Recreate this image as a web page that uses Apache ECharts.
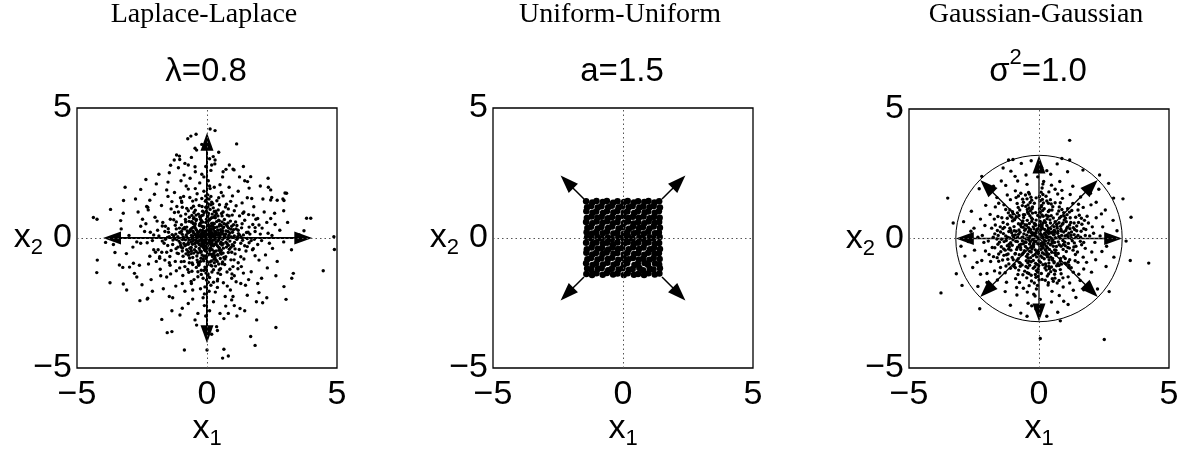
<!DOCTYPE html>
<html>
<head>
<meta charset="utf-8">
<script src="https://cdn.jsdelivr.net/npm/echarts@6/dist/echarts.min.js"></script>
<style>
  html, body { margin: 0; padding: 0; background: #fff; }
  #chart { width: 1183px; height: 451px; }
</style>
</head>
<body>
<div id="chart"></div>
<script>
// axis ticks shared by all three panels
const axisTicks = [-5, 0, 5];

// panel titles
const panelNames = ['Laplace-Laplace', 'Uniform-Uniform', 'Gaussian-Gaussian'];
const paramLabels = ['λ=0.8', 'a=1.5', '{m|σ}{sup|2}{m|=1.0}'];

// Laplace-Laplace samples (x1, x2)
const laplacePoints = [
  [0,0],[0.1,0],[-0.1,0.02],[0,0.1],[0.02,-0.1],[0.1,0.1],[-0.1,0.1],[0.1,-0.1],[-0.1,-0.1],[0.2,0],[-0.2,0.03],[0.03,0.2],[0,-0.2],
  [0.2,0.1],[-0.2,0.1],[0.2,-0.1],[-0.2,-0.1],[0.1,0.2],[-0.1,0.2],[0.1,-0.2],[-0.1,-0.2],[0.3,0.02],[-0.3,0],[0,0.3],[0.02,-0.3],
  [0.3,0.1],[-0.3,-0.1],[0.1,0.3],[-0.1,-0.3],[0.2,0.2],[-0.2,-0.2],[0.2,-0.2],[-0.2,0.2],[0.4,0],[-0.4,0.05],[0.05,0.4],[0,-0.4],
  [0.35,-0.15],[-0.35,0.15],[0.15,0.35],[-0.15,-0.35],[0.3,0.25],[-0.3,-0.25],[0.25,-0.3],[-0.25,0.3],[0.5,0.05],[-0.5,-0.05],
  [0.05,0.5],[-0.05,-0.5],[0.45,0.2],[-0.45,-0.2],[0.2,-0.45],[-0.2,0.45],[0.4,-0.3],[-0.4,0.3],[0.3,0.4],[-0.3,-0.4],[0.6,-0.05],
  [-0.6,0.1],[0.1,-0.6],[-0.05,0.6],
  [0.05,0.06],[-0.06,0.05],[0.06,-0.06],[-0.05,-0.07],[0.15,0.02],[-0.14,-0.03],[0.02,0.15],[-0.03,-0.16],[0.25,0.14],[-0.24,0.15],
  [0.15,-0.25],[-0.16,-0.24],[0.08,0.24],[-0.07,0.26],[0.27,-0.06],[-0.27,0.07],
  [0.11,0.36],[-0.13,0.39],[0.37,0.12],[-0.38,-0.13],[0.14,-0.37],[-0.36,0.11],[0.46,-0.07],[-0.47,0.16],[0.07,0.46],[-0.08,-0.47],
  [0.55,0.22],[-0.56,-0.24],[0.23,0.57],[-0.25,-0.55],[0.58,-0.27],[-0.54,0.26],[0.27,-0.58],[-0.26,0.56],[0.69,0.07],[-0.7,-0.08],
  [0.06,0.7],[-0.07,-0.69],[0.64,0.42],[-0.66,-0.39],[0.41,-0.64],[-0.42,0.67],[0.77,-0.21],[-0.76,0.27],[0.26,0.8],[-0.23,-0.78],
  [0.88,0.19],[-0.89,-0.21],[0.17,-0.88],[-0.21,0.86],[0.93,0.04],[-0.94,-0.06],[0.03,0.93],[0.01,-0.91],[0.74,0.52],[-0.72,-0.53],
  [0.51,-0.79],[-0.5,0.78],[1.06,-0.17],[-1.05,0.21],[0.19,-1.08],[-0.17,1.03],[1.02,0.32],[-1.01,-0.29],[0.33,1.03],[-0.31,-1.02],
  [0.12,0.08],[-0.09,0.13],[0.13,-0.09],[-0.12,-0.08],[0.18,0.14],[-0.19,-0.14],[0.16,-0.15],[-0.15,0.17],[0.32,-0.04],[-0.33,0.05],
  [0.04,0.33],[-0.05,-0.32],[0.42,0.12],[-0.41,-0.11],[0.12,-0.41],[-0.13,0.42],[0.24,0.33],[-0.23,-0.31],[0.31,-0.24],[-0.32,0.23],
  [0.52,-0.22],[-0.53,0.21],[0.22,0.51],[-0.22,-0.52],[0.62,0.17],[-0.61,-0.16],[0.16,-0.63],[-0.17,0.61],[0.47,0.46],[-0.48,-0.45],
  [0.46,-0.47],[-0.47,0.46],[0.81,0.25],[-0.8,-0.26],[0.27,-0.82],[-0.25,0.81],[1.18,0.05],[-1.17,-0.06],[0.04,1.19],[-0.06,-1.18],
  [0.58,0.62],[-0.61,-0.6],[0.62,-0.58],[-0.6,0.61],[0.92,-0.36],[-0.93,0.35],[0.36,0.94],[-0.35,-0.93],
  [0.72,0.15],[-0.68,0.22],[0.55,-0.48],[-0.62,-0.41],[0.18,0.78],[-0.25,0.72],[0.31,-0.77],[-0.14,-0.81],[0.88,-0.12],[-0.91,0.04],
  [0.05,0.95],[0.02,-0.97],[0.66,0.55],[-0.58,0.63],[0.47,0.66],[-0.71,-0.66],[0.83,0.38],[-0.85,-0.3],[0.39,-0.9],[-0.42,0.88],
  [1.05,0.08],[-1.08,-0.12],[0.12,1.1],[-0.08,-1.12],[0.95,-0.55],[-0.98,0.51],[0.62,1.0],[-0.55,-1.02],[1.2,0.3],[-1.18,0.35],
  [0.25,-1.22],[-0.3,1.25],[1.3,-0.2],[-1.32,-0.25],[0.18,1.38],[-0.22,-1.4],[0.78,0.88],[-0.82,0.92],[0.92,-0.84],[-0.88,-0.9],
  [1.1,0.62],[-1.15,-0.58],[0.52,-1.18],[-0.6,1.15],[0.35,0.22],[-0.42,-0.08],[0.12,-0.42],[0.52,0.32],[-0.52,0.42],[0.28,0.55],
  [-0.35,-0.58],[0.62,-0.22],[-0.72,-0.18],[0.08,0.68],[-0.12,-0.7],[0.75,-0.35],[-0.78,0.42],[0.42,0.85],[-0.38,-0.85],[0.98,0.22],
  [-1.0,-0.35],[0.28,1.02],[-0.32,-1.05],[1.02,-0.3],[-0.98,0.25],[1.4,0.12],[-1.45,0.05],[0.08,1.5],[0.1,-1.52],[1.25,0.85],
  [-1.22,-0.9],[0.88,-1.2],[-0.95,1.18],[1.5,-0.5],[-1.55,-0.55],[0.45,1.55],[-0.5,-1.6],[1.62,0.42],[-1.6,0.45],[0.4,-1.65],
  [-0.38,1.7],[0.65,0.12],[-0.62,-0.05],[0.02,0.82],[-0.15,0.88],[0.22,-0.62],[0.58,0.85],[-0.68,0.8],[0.72,-0.72],[-0.55,-0.75],
  [1.15,-0.05],[-1.2,0.15],[0.15,-1.05],[-0.05,1.18],[0.35,-0.5],[-0.28,0.52],[0.48,0.1],[-0.48,-0.22],[0.9,0.65],[-0.92,-0.7],
  [0.68,-1.02],[-0.72,1.05],[1.35,0.55],[-1.38,-0.48],[0.52,-1.4],[-0.55,1.42],[1.7,-0.1],[-1.72,-0.12],[-0.12,1.8],[0.15,-1.82],
  [1.05,1.05],[-1.1,1.0],[1.0,-1.1],[-1.05,-1.15],[0.38,0.42],[-0.45,0.55],[0.55,-0.62],[-0.6,-0.5],[0.82,0.02],[-0.8,0.12],
  [0.2,0.92],[0.28,-0.95],[1.3,-0.72],[-1.28,0.7],[0.75,1.3],[-0.7,-1.32],[1.85,0.25],[-1.9,0.3],[0.28,1.95],[-0.25,-1.95],
  [1.6,0.9],[-1.62,-0.85],[0.95,-1.55],[-0.9,1.6],[0.6,0.28],[-0.65,0.28],[0.3,-0.68],[-0.22,0.62],[0.95,0.45],[-0.95,-0.5],
  [0.45,-1.0],[-0.5,0.98],[1.12,0.35],[-1.1,-0.6],[1.45,-0.3],[-1.48,0.22],[0.22,1.32],[-0.35,-1.3],[0.82,1.12],[-0.85,-1.1],
  [1.2,-0.95],[-1.25,0.98],
  [0.07,0.15],[0.14,0.27],[0.23,0.06],[0.33,0.17],[0.41,0.31],[0.09,0.47],[0.26,0.41],[0.52,0.13],[0.61,0.38],[0.37,0.63],
  [0.18,0.56],[0.73,0.27],[0.49,0.52],[0.84,0.11],[0.13,0.74],[0.31,0.86],[0.67,0.71],[0.92,0.34],[0.56,0.94],[1.02,0.51],
  [0.24,1.16],[1.21,0.17],[0.81,0.58],[0.43,1.08],[1.33,0.39],[0.71,1.19],[0.97,0.88],[1.12,1.24],[0.38,1.43],[1.52,0.21],
  [0.05,1.31],[1.45,0.68],[0.62,1.62],[1.76,0.52],[0.91,1.41],
  [-0.08,0.12],[-0.17,0.29],[-0.26,0.09],[-0.36,0.21],[-0.12,0.43],[-0.44,0.37],[-0.29,0.48],[-0.55,0.08],[-0.63,0.33],[-0.21,0.67],
  [-0.41,0.71],[-0.74,0.19],[-0.53,0.56],[-0.86,0.41],[-0.11,0.97],[-0.33,0.92],[-0.69,0.64],[-0.95,0.14],[-0.58,0.87],[-1.06,0.38],
  [-0.19,1.21],[-1.22,0.49],[-0.83,0.71],[-0.45,1.07],[-1.34,0.13],[-0.78,1.14],[-1.01,0.85],[-1.16,1.21],[-0.42,1.47],[-1.49,0.36],
  [-0.06,1.41],[-1.41,0.72],[-0.66,1.56],[-1.72,0.46],[-0.97,1.37],
  [-0.06,-0.14],[-0.16,-0.26],[-0.24,-0.07],[-0.34,-0.18],[-0.09,-0.45],[-0.43,-0.33],[-0.27,-0.49],[-0.53,-0.11],[-0.61,-0.36],
  [-0.19,-0.65],[-0.39,-0.69],[-0.72,-0.24],[-0.51,-0.58],[-0.83,-0.07],[-0.13,-0.88],[-0.31,-0.97],[-0.67,-0.77],[-0.94,-0.38],
  [-0.57,-0.96],[-1.03,-0.19],[-0.22,-1.24],[-1.19,-0.41],[-0.81,-0.61],[-0.41,-1.13],[-1.31,-0.08],[-0.74,-1.21],[-0.99,-0.91],
  [-1.18,-1.26],[-0.35,-1.49],[-1.51,-0.29],[-0.04,-1.35],[-1.43,-0.71],[-0.61,-1.67],[-1.74,-0.55],[-0.93,-1.44],
  [0.09,-0.13],[0.17,-0.28],[0.26,-0.08],[0.35,-0.22],[0.11,-0.48],[0.44,-0.35],[0.28,-0.52],[0.54,-0.16],[0.63,-0.39],[0.21,-0.71],
  [0.42,-0.66],[0.73,-0.16],[0.52,-0.57],[0.86,-0.43],[0.12,-0.92],[0.33,-1.08],[0.69,-0.81],[0.97,-0.26],[0.58,-0.99],[1.08,-0.61],
  [0.19,-1.31],[1.24,-0.44],[0.82,-0.56],[0.47,-1.23],[1.37,-0.09],[0.77,-1.31],[1.04,-0.84],[1.19,-1.18],[0.41,-1.58],[1.55,-0.33],
  [0.03,-1.44],[1.42,-0.81],[0.63,-1.72],[1.78,-0.41],[0.96,-1.38],
  [0.03,0.58],[-0.02,0.72],[0.04,0.88],[-0.03,1.04],[0.02,1.25],[-0.04,1.45],[0.03,1.66],[0.05,-0.65],[-0.03,-0.79],[0.02,-1.02],
  [-0.05,-1.21],[0.04,-1.38],[-0.02,-1.62],[0.66,0.03],[0.79,-0.04],[0.94,0.02],[1.12,-0.03],[1.31,0.04],[1.55,-0.02],[-0.67,-0.03],
  [-0.78,0.04],[-0.97,-0.02],[-1.12,0.05],[-1.29,-0.04],[-1.52,0.02],
  [0.15,1.6],[-0.2,1.52],[0.25,-1.7],[-0.15,-1.55],[1.62,-0.18],[1.58,0.22],[-1.62,0.25],[-1.65,-0.2],[0.1,2.0],[-0.12,2.35],
  [0.08,-2.05],[-0.15,-2.3],[2.1,-0.1],[2.35,0.18],[-2.05,0.12],[-2.3,-0.18],[0.45,0.68],[-0.52,0.75],[0.65,-0.75],[-0.72,-0.55],
  [0.85,0.85],[-0.82,0.62],[0.6,-0.92],[-0.68,-0.95],[1.15,0.48],[-1.18,0.62],[1.08,-0.42],[-1.12,-0.35],[0.48,1.28],[-0.52,1.22],
  [0.42,-1.35],[-0.58,-1.28],[1.42,1.0],[-1.38,1.12],[1.32,-1.1],[-1.45,-0.95],[0.98,1.62],[-1.02,1.55],[1.12,-1.68],[-0.95,-1.75],
  [1.88,0.72],[-1.92,0.65],[1.85,-0.68],[-1.82,-0.72],[0.32,0.78],[-0.28,0.82],[0.35,-0.85],[-0.25,-0.9],[0.78,0.45],[-0.85,0.35],
  [0.82,-0.28],[-0.78,-0.45],[1.25,0.12],[-1.28,0.08],[0.15,1.28],[-0.12,-1.25],[0.55,0.48],[-0.58,0.38],[0.48,-0.38],[-0.42,-0.52],
  [0.18,0.45],[-0.45,0.12],[0.42,-0.12],[-0.12,-0.38],[2.45,0.75],[-2.55,0.45],[0.72,-2.62],[-0.45,2.55],[1.72,1.52],[-1.78,-1.45],
  [1.48,-1.82],[-1.55,1.85],
  [2.05,0.15],[-2.1,-0.1],[0.05,2.2],[-0.1,-2.15],[1.8,1.2],[-1.75,1.25],[1.7,-1.3],[-1.8,-1.2],[1.2,1.8],[-1.25,1.75],
  [1.3,-1.75],[-1.2,-1.85],[2.3,0.6],[-2.35,0.55],[2.25,-0.65],[-2.2,-0.7],[0.6,2.35],[-0.65,2.3],[0.7,-2.25],[-0.55,-2.35],
  [2.5,0.1],[-2.55,-0.2],[0.15,2.6],[-0.1,-2.6],[1.95,0.75],[-2.0,0.8],[2.0,-0.85],[-1.95,-0.9],[0.85,1.95],[-0.8,2.0],
  [0.9,-2.0],[-0.85,-2.05],[2.6,0.95],[-2.65,1.0],[2.7,-0.9],[-2.6,-1.05],[1.0,2.65],[-1.1,2.7],[1.05,-2.6],[-0.95,-2.7],
  [1.55,1.55],[-1.55,-1.5],[1.6,-1.6],[-1.5,1.6],[2.15,1.5],[-2.2,1.45],[2.1,-1.55],[-2.15,-1.6],[1.45,2.2],[-1.5,2.15],
  [1.55,-2.2],[-1.45,-2.25],[2.8,0.3],[-2.85,-0.35],[0.3,2.85],[-0.35,-2.9],[2.4,-0.2],[-2.4,0.25],[-0.2,2.45],[0.25,-2.45],
  [1.85,0.4],[-1.88,-0.45],[0.4,-1.9],[-0.45,1.9],[2.2,1.0],[-2.25,-1.0],[1.0,-2.25],[-1.0,2.2],[1.75,-0.45],[-1.7,0.6],
  [0.55,1.75],[-0.6,-1.75],[2.95,-0.15],[-3.0,0.1],[0.1,3.05],[-0.05,-3.0],[2.45,1.85],[-2.5,-1.8],[1.9,-2.45],[-1.85,2.45],
  [3.1,0.6],[-3.1,-0.6],[0.65,-3.1],[-0.6,3.1],[2.7,1.45],[-2.75,1.5],[2.65,-1.45],[-2.7,-1.5],[1.4,2.75],[-1.35,-2.8],
  [1.45,-2.8],[-1.4,2.8],[1.65,0.15],[-1.6,-0.05],[0.05,-1.7],[-0.05,1.62],[2.0,0.5],[-2.05,-0.45],[0.5,2.05],[-0.55,-2.0],
  [1.35,1.35],[-1.35,1.4],[1.4,-1.35],[-1.4,-1.38],[2.35,2.3],[-2.3,-2.35],[2.3,-2.3],[-2.35,2.25],
  [2.12,0.38],[-2.18,0.22],[0.32,-2.08],[-0.28,2.12],[1.95,-0.25],[-1.98,-0.55],[0.62,2.55],[-0.72,-2.52],[2.52,-0.4],[-2.48,0.72],
  [1.25,2.35],[-1.32,-2.3],[2.32,-1.15],[-2.28,1.18],[0.95,-2.38],[-0.88,2.42],[1.78,0.88],[-1.82,-0.78],[0.78,-1.85],[-0.72,1.88],
  [2.62,0.52],[-2.7,-0.15],[-0.05,2.75],[0.1,-2.8],[1.62,1.92],[-1.68,-1.95],[1.95,-1.75],[-2.02,1.68],[3.25,-0.45],[-3.3,0.35],
  [-0.4,-3.35],[0.45,3.3],[2.95,1.05],[-2.98,-1.12],[1.15,-3.0],[-1.05,3.02],[1.38,0.95],[-1.42,-1.05],[1.05,-1.45],[-0.98,1.42],
  [3.55,0.12],[-3.6,-0.25],[0.18,-3.7],[-0.2,3.6],[2.05,2.0],[-2.1,-2.05],[2.0,-2.1],[-1.95,2.08],[1.82,-0.05],[-1.85,0.08],
  [0.12,1.9],[-0.08,-1.88],
  [0.12,4.19],[0.31,4.13],[-0.42,3.99],[-0.62,3.92],[-0.74,3.82],[1.14,3.62],[-0.46,3.45],[-0.4,3.38],[-1.17,3.19],[-1.06,3.15],
  [-1.26,3.0],[0.24,3.13],[0.31,3.0],[0.18,2.81],[0.86,2.81],[0.73,2.64],[1.04,2.62],[-1.45,2.51],[-0.85,2.87],[-0.72,2.81],
  [-0.46,2.74],[1.68,2.36],[1.56,2.17],[2.36,1.95],[3.06,1.72],[-3.15,1.95],[-2.55,1.87],[-3.21,1.44],[-3.71,1.1],[-4.37,0.79],
  [-4.23,0.72],[-3.22,0.95],[-3.32,0.67],[-2.32,1.21],[-2.26,1.08],[2.49,1.56],[2.45,1.46],[2.96,1.44],[3.83,0.76],[3.99,0.76],
  [3.73,0.28],[4.88,0.05],[4.9,-0.44],[4.47,-1.26],[3.32,-1.36],[3.26,-1.55],[2.96,-1.87],[3.04,-2.36],[2.65,-3.44],[1.85,-4.13],
  [1.68,-3.79],[0.65,-4.28],[0.82,-4.54],[0.6,-4.62],[-0.87,-4.31],[0.0,-4.31],[-1.53,-3.64],[-1.35,-3.6],[-1.74,-3.13],[-1.04,-2.96],
  [-2.58,-2.41],[-2.28,-2.32],[-3.09,-2.0],[-3.22,-1.77],[-3.73,-1.72],[-4.24,-1.33],[-4.22,-0.85],[-3.54,-0.56],[-3.37,-1.04],
  [-3.24,-1.13],[-2.83,-0.97],[-2.79,-1.36],[-3.9,-0.17],[2.14,-2.49],[1.91,-3.15],[1.27,-2.71],[0.5,-2.9],[0.82,-2.9],[0.37,-3.41],
  [0.4,-3.56],[-0.46,-3.15],[3.0,1.73],[2.92,1.5]
];

// Uniform-Uniform samples
const uniformPoints = [
  [-1.41,-1.38],[-1.19,-1.42],[-1.02,-1.36],[-0.78,-1.41],[-0.62,-1.35],[-0.38,-1.4],[-0.21,-1.37],[0.03,-1.42],[0.18,-1.36],[0.42,-1.41],[0.58,-1.38],[0.81,-1.42],[0.98,-1.36],[1.22,-1.4],[1.4,-1.37],
  [-1.38,-1.17],[-1.22,-1.23],[-0.97,-1.19],[-0.82,-1.15],[-0.57,-1.24],[-0.43,-1.18],[-0.17,-1.21],[-0.02,-1.16],[0.23,-1.22],[0.37,-1.19],[0.63,-1.15],[0.77,-1.24],[1.03,-1.18],[1.17,-1.21],[1.42,-1.16],
  [-1.42,-0.97],[-1.17,-1.04],[-1.03,-0.98],[-0.77,-1.02],[-0.6,-0.95],[-0.36,-1.03],[-0.23,-0.97],[0.04,-1.01],[0.16,-0.96],[0.44,-1.04],[0.57,-0.99],[0.83,-0.96],[0.96,-1.03],[1.23,-0.98],[1.39,-1.02],
  [-1.37,-0.82],[-1.23,-0.77],[-0.98,-0.83],[-0.83,-0.78],[-0.58,-0.81],[-0.42,-0.76],[-0.18,-0.84],[0.02,-0.78],[0.21,-0.82],[0.38,-0.77],[0.61,-0.83],[0.78,-0.79],[1.02,-0.84],[1.18,-0.77],[1.41,-0.81],
  [-1.41,-0.57],[-1.18,-0.63],[-1.04,-0.58],[-0.79,-0.62],[-0.63,-0.56],[-0.37,-0.61],[-0.22,-0.58],[0.03,-0.63],[0.17,-0.57],[0.43,-0.62],[0.59,-0.58],[0.82,-0.64],[0.97,-0.57],[1.21,-0.61],[1.38,-0.59],
  [-1.39,-0.43],[-1.21,-0.37],[-0.97,-0.41],[-0.81,-0.38],[-0.57,-0.44],[-0.41,-0.37],[-0.19,-0.42],[-0.03,-0.38],[0.22,-0.43],[0.39,-0.36],[0.62,-0.42],[0.79,-0.37],[1.04,-0.43],[1.19,-0.38],[1.42,-0.42],
  [-1.42,-0.18],[-1.17,-0.23],[-1.02,-0.17],[-0.77,-0.22],[-0.61,-0.18],[-0.38,-0.24],[-0.21,-0.17],[0.04,-0.21],[0.18,-0.16],[0.41,-0.23],[0.58,-0.18],[0.83,-0.22],[0.98,-0.17],[1.22,-0.23],[1.39,-0.19],
  [-1.38,0.03],[-1.22,-0.02],[-0.98,0.04],[-0.82,-0.03],[-0.58,0.02],[-0.43,-0.04],[-0.18,0.03],[0.02,-0.02],[0.22,0.04],[0.37,-0.03],[0.63,0.02],[0.78,-0.04],[1.03,0.03],[1.17,-0.02],[1.41,0.04],
  [-1.4,0.22],[-1.19,0.17],[-1.03,0.23],[-0.78,0.18],[-0.62,0.24],[-0.37,0.17],[-0.22,0.21],[0.03,0.16],[0.17,0.23],[0.42,0.18],[0.57,0.22],[0.81,0.17],[0.97,0.24],[1.23,0.18],[1.38,0.21],
  [-1.37,0.38],[-1.23,0.43],[-0.97,0.37],[-0.83,0.42],[-0.57,0.38],[-0.42,0.44],[-0.17,0.37],[-0.02,0.41],[0.23,0.36],[0.38,0.43],[0.62,0.38],[0.77,0.42],[1.02,0.37],[1.18,0.44],[1.42,0.39],
  [-1.42,0.62],[-1.18,0.57],[-1.02,0.63],[-0.79,0.58],[-0.61,0.64],[-0.38,0.57],[-0.21,0.62],[0.04,0.58],[0.19,0.63],[0.41,0.56],[0.58,0.61],[0.82,0.57],[0.98,0.63],[1.21,0.58],[1.39,0.62],
  [-1.39,0.77],[-1.21,0.83],[-0.98,0.78],[-0.82,0.82],[-0.58,0.76],[-0.42,0.81],[-0.18,0.78],[0.02,0.84],[0.21,0.77],[0.38,0.82],[0.61,0.78],[0.79,0.83],[1.03,0.76],[1.19,0.81],[1.41,0.78],
  [-1.41,1.03],[-1.17,0.97],[-1.03,1.02],[-0.77,0.96],[-0.62,1.03],[-0.37,0.98],[-0.22,1.04],[0.03,0.97],[0.17,1.02],[0.43,0.96],[0.57,1.03],[0.83,0.98],[0.97,1.02],[1.22,0.97],[1.38,1.03],
  [-1.38,1.18],[-1.22,1.23],[-0.97,1.17],[-0.83,1.22],[-0.57,1.18],[-0.43,1.24],[-0.17,1.17],[-0.03,1.22],[0.22,1.18],[0.37,1.23],[0.63,1.17],[0.78,1.21],[1.02,1.18],[1.18,1.23],[1.42,1.17],
  [-1.42,1.41],[-1.18,1.37],[-1.02,1.42],[-0.78,1.38],[-0.62,1.42],[-0.38,1.36],[-0.21,1.41],[0.04,1.38],[0.18,1.42],[0.42,1.37],[0.58,1.41],[0.82,1.38],[0.98,1.42],[1.21,1.37],[1.39,1.41]
];

// Gaussian-Gaussian samples
const gaussPoints = [
  [0,0],[0.15,0.05],[-0.15,0.1],[0.05,0.18],[-0.05,-0.2],[0.25,-0.1],[-0.25,-0.05],[0.1,-0.3],[-0.1,0.3],[0.3,0.25],[-0.3,0.22],
  [0.28,-0.3],[-0.28,-0.3],[0.42,0.05],[-0.42,0.0],[0.02,0.42],[0.0,-0.45],[0.45,0.38],[-0.4,0.42],[0.4,-0.42],[-0.45,-0.38],
  [0.58,0.15],[-0.58,0.18],[0.15,0.6],[-0.18,0.58],[0.2,-0.6],[-0.15,-0.62],[0.6,-0.15],[-0.6,-0.2],[0.7,0.4],[-0.68,0.45],
  [0.65,-0.45],[-0.7,-0.42],[0.42,0.72],[-0.45,0.7],[0.45,-0.72],[-0.42,-0.75],[0.8,0.02],[-0.82,0.05],[0.03,0.82],[0.0,-0.85],
  [0.12,0.12],[-0.12,-0.12],[0.22,0.35],[-0.35,0.08],[0.35,-0.18],[0.08,-0.42],[-0.22,0.45],[0.52,0.25],[-0.5,-0.15],[0.55,-0.3],
  [-0.55,0.32],[0.3,0.5],[-0.3,-0.52],[0.3,-0.55],[-0.25,0.75],[0.72,0.2],[-0.75,-0.25],[0.2,-0.78],[0.85,-0.3],[-0.88,0.28],
  [0.28,0.9],[-0.3,-0.9],[0.9,0.55],[-0.92,-0.6],[0.58,-0.9],[-0.55,0.92],[0.62,0.65],[-0.65,-0.62],[0.65,-0.65],[-0.62,0.68],
  [0.09,0.15],[-0.18,0.2],[0.27,0.05],[-0.26,0.13],[0.04,-0.28],[0.16,-0.24],[-0.21,-0.19],[0.37,0.19],[-0.39,-0.06],[0.11,0.46],
  [-0.13,0.51],[0.5,-0.18],[-0.51,0.37],[0.27,-0.47],[-0.36,-0.49],[0.61,0.24],[-0.64,-0.09],[0.25,0.62],[-0.28,0.66],[0.29,-0.64],
  [-0.09,-0.71],[0.74,-0.13],[-0.73,0.24],[0.68,0.55],[-0.66,0.59],[0.63,-0.55],[-0.61,-0.56],[0.84,0.36],[-0.82,-0.34],[0.36,0.86],
  [-0.35,0.88],[0.39,-0.82],[-0.38,-0.87],[0.94,-0.23],[-0.97,0.04],[0.03,0.99],[-0.01,-1.04],[1.07,0.4],[-1.09,0.32],[0.4,1.09],
  [-0.44,1.02],[0.38,-1.08],[-0.43,-1.13],[1.11,-0.35],[-1.14,-0.33],[0.79,0.79],[-0.77,0.89],[0.83,-0.77],[-0.8,-0.78],[1.23,0.12],
  [-1.26,-0.08],[0.09,1.22],[-0.1,-1.24],[1.28,-0.09],[-1.21,0.05],[1.02,0.78],[-1.04,0.82],[1.01,-0.77],[-1.03,-0.73],[0.76,1.06],
  [-0.74,1.1],[0.77,-1.04],[-0.72,-1.07],[1.37,0.35],[-1.39,0.38],[1.34,-0.33],[-1.36,-0.4],[0.36,1.36],[-0.34,1.39],[0.37,-1.37],
  [-0.39,-1.35],[1.5,0.12],[-1.52,-0.14],[0.13,1.51],[-0.12,-1.5],[1.17,1.02],[-1.18,0.99],[1.15,-1.03],[-1.16,-0.98],[1.63,0.78],
  [-1.61,-0.74],[0.77,-1.62],[-0.79,1.64],[1.72,0.38],[-1.7,-0.36],[0.36,-1.71],[-0.37,1.72],[0.56,0.14],[-0.54,-0.13],[0.13,-0.55],
  [-0.14,0.55],[0.44,0.6],[-0.43,-0.61],[0.6,-0.44],[-0.61,0.43],[0.93,0.6],[-0.91,-0.58],[0.58,-0.94],[-0.6,0.92],
  [0.07,0.33],[-0.19,0.37],[0.38,-0.07],[-0.36,-0.21],[0.17,-0.16],[-0.08,0.06],[0.26,0.13],[-0.21,-0.33],[0.47,0.21],[-0.47,0.13],
  [0.12,0.52],[-0.09,-0.53],[0.51,-0.11],[-0.52,-0.31],[0.36,0.41],[-0.33,0.35],[0.24,-0.43],[-0.16,0.18],[0.63,0.03],[-0.66,0.03],
  [0.05,0.66],[0.07,-0.67],[0.57,0.46],[-0.54,0.52],[0.49,-0.53],[-0.56,-0.47],[0.73,0.28],[-0.77,0.33],[0.31,0.76],[-0.29,0.79],
  [0.33,-0.71],[-0.32,-0.74],[0.78,-0.24],[-0.71,-0.35],[0.87,0.12],[-0.91,0.14],[0.11,0.91],[-0.13,-0.96],[0.92,-0.08],[-0.89,-0.11],
  [0.06,-0.92],[-0.05,0.89],[0.77,0.61],[-0.79,0.57],[0.74,-0.58],[-0.76,-0.63],[0.55,0.79],[-0.59,0.81],[0.52,-0.83],[-0.49,-0.86],
  [0.03,0.24],[-0.11,0.21],[0.19,-0.05],[-0.18,-0.09],[0.08,-0.19],[0.33,0.07],[-0.33,-0.12],[0.14,0.39],[-0.06,0.37],[0.16,-0.36],
  [-0.14,-0.44],[0.44,-0.24],[-0.41,0.25],[0.39,0.27],[-0.27,-0.41],[0.59,0.32],[-0.62,0.06],[0.04,0.56],[-0.02,-0.59],[0.54,-0.04],
  [-0.48,0.52],[0.37,-0.61],[-0.37,0.58],[0.67,-0.31],[-0.69,-0.22],[0.21,0.69],[-0.11,0.71],[0.12,-0.73],[-0.23,-0.66],[0.76,0.08],
  [-0.79,0.16],[0.83,0.47],[-0.86,-0.42],[0.47,0.88],[-0.43,-0.94],[0.93,-0.42],[-0.96,0.46],[0.38,-0.95],[-0.41,0.97],[1.07,0.13],
  [-1.09,-0.16],[0.14,1.08],[-0.16,-1.09],[1.13,-0.19],[-1.16,0.27],[0.23,-1.14],[-0.27,1.15],[1.22,0.62],[-1.25,-0.63],[0.63,-1.25],
  [-0.64,1.27],[0.88,1.12],[-0.91,-1.13],[1.13,-0.91],[-1.11,0.88],[1.42,0.05],[-1.44,-0.03],[0.05,1.46],[-0.04,-1.47],[1.31,-0.45],
  [-1.33,0.43],[0.47,1.33],[-0.45,-1.32],[0.69,0.47],[-0.71,0.52],[0.52,-0.77],[-0.48,-0.69],[0.86,0.29],[-0.83,-0.12],[0.16,0.86],
  [-0.22,-0.85],[0.99,-0.14],[-1.01,0.12],[0.15,-1.01],[-0.13,1.0],[1.19,0.38],[-1.17,-0.41],[0.4,-1.17],[-0.38,1.18],[0.97,0.87],
  [-0.99,-0.82],[0.86,-0.99],[-0.83,0.99],[1.52,0.62],[-1.55,-0.6],[0.61,-1.53],[-0.63,1.52],[1.59,-0.11],[-1.57,0.12],[0.12,-1.58],
  [-0.11,1.57],[0.34,0.31],[-0.31,-0.34],[0.32,-0.36],[-0.36,0.32],[0.47,0.01],[-0.49,-0.02],[0.01,0.49],[-0.02,-0.48],[0.22,0.2],
  [-0.2,-0.23],[0.21,-0.21],[-0.22,0.2],
  [1.0,0.1],[-1.0,-0.05],[0.05,1.02],[-0.08,-1.0],[1.1,0.45],[-1.12,0.4],[1.05,-0.5],[-1.08,-0.45],[0.5,1.1],[-0.45,1.12],
  [0.48,-1.1],[-0.5,-1.08],[0.85,0.85],[-0.88,0.82],[0.82,-0.88],[-0.85,-0.85],[1.25,0.0],[-1.28,0.1],[0.1,1.28],[-0.05,-1.3],
  [1.2,0.8],[-1.22,0.78],[1.18,-0.82],[-1.2,-0.8],[0.78,1.22],[-0.8,1.2],[0.82,-1.2],[-0.78,-1.22],[1.45,0.3],[-1.48,0.25],
  [1.42,-0.3],[-1.45,-0.32],[0.3,1.45],[-0.28,1.48],[0.32,-1.45],[-0.3,-1.42],[1.35,0.6],[-1.38,0.62],[1.4,-0.62],[-1.35,-0.65],
  [0.62,1.38],[-0.6,1.4],[0.6,-1.38],[-0.62,-1.4],[1.6,0.05],[-1.62,-0.02],[0.02,1.62],[0.0,-1.6],[1.1,1.15],[-1.12,1.1],
  [1.15,-1.12],[-1.1,-1.15],[1.55,0.9],[-1.58,0.85],[1.5,-0.92],[-1.55,-0.88],[0.9,1.55],[-0.88,1.58],[0.92,-1.52],[-0.9,-1.55],
  [1.8,0.35],[-1.82,0.4],[1.78,-0.38],[-1.8,-0.35],[0.38,1.8],[-0.4,1.78],[0.35,-1.8],[-0.38,-1.82],[1.75,0.7],[-1.72,0.75],
  [1.7,-0.72],[-1.75,-0.7],[0.72,1.72],[-0.7,1.75],[0.7,-1.72],[-0.75,-1.7],[1.3,1.35],[-1.35,1.3],[1.32,-1.3],[-1.3,-1.32],
  [1.95,0.1],[-1.95,-0.1],[0.12,1.95],[-0.1,-1.95],[0.95,0.25],[-0.95,0.3],[0.25,-0.98],[-0.25,0.98],[1.15,0.2],[-1.15,-0.22],
  [0.2,1.15],[-0.22,-1.15],[1.32,0.42],[-1.3,-0.45],[0.45,-1.28],[-0.42,1.3],[1.05,0.65],[-1.02,0.68],[0.68,-1.05],[-0.65,-1.02],
  [0.95,1.0],[-1.0,0.95],[1.0,-0.95],[-0.95,-1.0],[1.65,0.55],[-1.68,0.52],[0.55,-1.65],[-0.52,1.68],[1.5,1.1],[-1.48,-1.12],
  [1.12,-1.48],[-1.1,1.5],[1.9,0.6],[-1.92,-0.62],[0.62,1.9],[-0.6,-1.92],[0.15,1.7],[-0.18,-1.72],[1.72,-0.15],[-1.7,0.18],
  [1.25,0.25],[-1.22,-0.28],[0.28,-1.22],[-0.25,1.22],[0.7,0.95],[-0.72,-0.95],[0.95,-0.7],[-0.95,0.72],
  [1.03,0.31],[-1.05,0.22],[0.36,1.04],[-0.33,1.07],[0.27,-1.06],[-0.36,-1.03],[1.01,-0.28],[-1.03,-0.26],[1.12,0.07],[-1.13,0.02],
  [0.02,1.14],[-0.03,-1.17],[0.97,0.71],[-0.94,0.74],[0.73,-0.97],[-0.76,-0.92],[1.18,0.52],[-1.21,0.55],[1.17,-0.37],[-1.19,-0.6],
  [0.53,1.23],[-0.51,1.24],[0.57,-1.21],[-0.55,-1.26],[1.35,0.15],[-1.37,0.19],[0.17,1.37],[-0.14,-1.39],[1.36,-0.17],[-1.34,-0.12],
  [0.09,-1.35],[-0.18,1.36],[1.08,0.92],[-1.02,1.03],[1.05,-0.98],[-0.97,-1.07],[1.45,0.48],[-1.49,0.45],[0.44,1.5],[-0.47,-1.52],
  [1.48,-0.52],[-1.47,-0.51],[0.51,-1.55],[-0.46,1.53],[1.62,0.28],[-1.6,0.31],[0.27,1.63],[-0.29,-1.64],[1.64,-0.24],[-1.58,-0.22],
  [0.24,-1.61],[-0.31,1.59],[1.26,1.08],[-1.28,1.12],[1.24,-1.13],[-1.27,-1.06],[0.82,1.38],[-0.84,1.35],[0.85,-1.36],[-0.81,-1.39],
  [1.41,0.82],[-1.43,0.8],[1.39,-0.86],[-1.4,-0.83],[1.78,0.12],[-1.76,0.05],[0.08,1.79],[-0.06,-1.81],[1.85,0.86],[-1.88,0.93],
  [0.88,1.86],[-0.91,1.84],[0.93,-1.87],[-0.86,-1.89],[1.83,-0.92],[-1.86,-0.89],[1.52,1.32],[-1.55,1.36],[1.53,-1.38],[-1.51,-1.33],
  [2.05,0.45],[-2.08,0.5],[0.48,2.06],[-0.46,2.09],[0.5,-2.04],[-0.45,-2.07],[2.03,-0.52],[-2.06,-0.48],[1.2,1.7],[-1.22,1.68],
  [1.18,-1.72],[-1.25,-1.69],[1.7,1.2],[-1.68,1.22],[1.72,-1.18],[-1.71,-1.25],
  [2.1,0.2],[-2.12,-0.15],[0.15,2.1],[-0.2,-2.15],[2.2,0.8],[-2.25,0.75],[2.18,-0.82],[-2.2,-0.85],[0.8,2.2],[-0.82,2.22],
  [0.78,-2.2],[-0.85,-2.18],[1.6,1.6],[-1.62,1.58],[1.58,-1.62],[-1.6,-1.6],[2.45,0.45],[-2.5,0.4],[2.42,-0.5],[-2.48,-0.45],
  [0.45,2.48],[-0.5,2.45],[0.48,-2.45],[-0.42,-2.5],[2.0,1.3],[-2.05,1.28],[2.02,-1.3],[-2.0,-1.35],[1.3,2.02],[-1.28,2.05],
  [1.32,-2.0],[-1.3,-2.05],[2.7,0.1],[-2.72,-0.12],[0.1,2.75],[-0.12,-2.72],[2.55,1.1],[-2.6,1.05],[2.58,-1.08],[-2.55,-1.12],
  [1.1,2.58],[-1.08,2.6],[1.12,-2.55],[-1.1,-2.58],[1.85,1.95],[-1.9,1.88],[1.92,-1.88],[-1.88,-1.92],[2.85,0.7],[-2.9,0.65],
  [2.88,-0.72],[-2.85,-0.68],[0.7,2.88],[-0.68,2.9],[0.72,-2.85],[-0.7,-2.88],[2.3,1.9],[-2.35,-1.85],[2.25,-1.95],[-2.3,1.92],
  [3.0,0.3],[-3.0,-0.3],[0.3,-3.0],[-0.3,3.0],[2.35,0.1],[-2.35,0.05],[0.05,-2.35],[-0.05,2.38],
  [2.2,1.4],[-2.25,-1.38],[1.42,-2.28],[-1.45,2.22],[2.4,0.95],[-2.38,-0.92],[0.95,-2.42],[-0.92,2.4],[2.6,-0.3],[-2.62,0.28],
  [0.3,2.62],[-0.28,-2.6],[1.98,1.75],[-2.0,-1.7],[1.72,-1.98],[-1.75,2.02],[2.15,-0.15],[-2.18,0.12],[-0.15,-2.22],[0.18,2.2],
  [1.18,3.79],[-3.51,1.56],[-3.77,-2.1],[-2.28,-2.71],[0.05,-3.86],[2.51,-3.9],[4.22,-0.95],[3.51,-0.85],[3.54,0.82],[3.23,1.53],
  [2.87,1.56],[2.33,2.45],[2.68,2.13],[1.69,2.64],[0.88,3.09],[1.18,3.03],[-1.17,3.03],[-1.0,3.05],[-1.38,2.72],[-3.18,-1.36],
  [-2.96,-1.81],[0.82,-3.18],[-0.46,-3.0],[3.35,-0.1],[-3.3,0.6],[2.7,-2.05],[-2.2,2.4]
];

// arrows: [x0, y0, x1, y1]
const laplaceArrows = [[0,0,0,4.05],[0,0,0,-4.05],[0,0,-4.0,0],[0,0,4.05,0]];
const uniformArrows = [[1.5,1.5,2.4,2.4],[-1.5,1.5,-2.4,2.4],[-1.5,-1.5,-2.4,-2.4],[1.5,-1.5,2.4,-2.4]];
const gaussArrows = [[0,0,3.2,0],[0,0,2.26,2.26],[0,0,0,3.2],[0,0,-2.26,2.26],[0,0,-3.2,0],[0,0,-2.26,-2.26],[0,0,0,-3.2],[0,0,2.26,-2.26]];
// circle: [cx, cy, r]
const gaussCircle = [[0, 0, 3.2]];

const sans = '"Liberation Sans", Arial, Helvetica, sans-serif';
const serif = '"Liberation Serif", "Times New Roman", serif';

const grids = [
  { left: 77, top: 108, width: 260, height: 260 },
  { left: 493, top: 108, width: 260, height: 260 },
  { left: 909, top: 109, width: 260, height: 259 }
];

const fmt = v => (v < 0 ? '\u2212' + Math.abs(v) : String(v));

const subRich = {
  x: { fontSize: 34, fontFamily: sans, color: '#000' },
  s: { fontSize: 22, fontFamily: sans, color: '#000', lineHeight: 16, padding: [20, 0, 0, 0] }
};

const arrowRenderer = (lw) => function (params, api) {
  const p0 = api.coord([api.value(0), api.value(1)]);
  const p1 = api.coord([api.value(2), api.value(3)]);
  const dx = p1[0] - p0[0], dy = p1[1] - p0[1];
  const len = Math.sqrt(dx * dx + dy * dy);
  const ux = dx / len, uy = dy / len;
  const hl = 18, hw = 6.5;
  const bx = p1[0] - ux * hl, by = p1[1] - uy * hl;
  return {
    type: 'group',
    children: [
      { type: 'line', shape: { x1: p0[0], y1: p0[1], x2: bx + ux * 2, y2: by + uy * 2 }, style: { stroke: '#000', lineWidth: lw } },
      { type: 'polygon', shape: { points: [[p1[0], p1[1]], [bx - uy * hw, by + ux * hw], [bx + uy * hw, by - ux * hw]] }, style: { fill: '#000' } }
    ]
  };
};

const xAxes = grids.map((g, i) => ({
  gridIndex: i, type: 'value',
  min: axisTicks[0], max: axisTicks[axisTicks.length - 1], interval: 5,
  axisLine: { show: false }, axisTick: { show: false }, splitLine: { show: false },
  axisLabel: { formatter: fmt, fontSize: 34, fontFamily: sans, color: '#000', margin: 10 },
  name: '{x|x}{s|1}', nameLocation: 'middle', nameGap: 44, nameMoveOverlap: false,
  nameTextStyle: { rich: subRich }
}));
const yAxes = grids.map((g, i) => ({
  gridIndex: i, type: 'value',
  min: axisTicks[0], max: axisTicks[axisTicks.length - 1], interval: 5,
  axisLine: { show: false }, axisTick: { show: false }, splitLine: { show: false },
  axisLabel: { formatter: fmt, fontSize: 34, fontFamily: sans, color: '#000', margin: 5, padding: [4, 0, 0, 0] },
  name: '{x|x}{s|2}', nameLocation: 'middle', nameRotate: 0, nameGap: 34, nameMoveOverlap: false,
  nameTextStyle: { rich: subRich }
}));

const zeroLines = {
  silent: true, symbol: ['none', 'none'], label: { show: false },
  lineStyle: { type: [1.5, 3], color: '#555', width: 1 },
  data: [{ xAxis: 0 }, { yAxis: 0 }]
};

const scatter = (i, data, size) => ({
  type: 'scatter', xAxisIndex: i, yAxisIndex: i, data: data,
  symbol: 'circle', symbolSize: size, itemStyle: { color: '#000', opacity: 1 },
  markLine: zeroLines, z: 2
});
const arrows = (i, data, lw) => ({
  type: 'custom', xAxisIndex: i, yAxisIndex: i, data: data,
  encode: { x: [0, 2], y: [1, 3] }, renderItem: arrowRenderer(lw), z: 4, silent: true
});

const titles = [];
grids.forEach((g, i) => {
  const cx = g.left + g.width / 2;
  titles.push({ type: 'text', x: cx - 3, y: 15, style: { text: panelNames[i], fontSize: 28, fontFamily: serif, fill: '#000', textAlign: 'center', textVerticalAlign: 'middle' } });
  titles.push({ type: 'text', x: cx - 1, y: 72, style: {
    text: paramLabels[i], fontSize: 33, fontFamily: sans, fill: '#000', textAlign: 'center', textVerticalAlign: 'middle',
    rich: {
      m: { fontSize: 33, fontFamily: sans, fill: '#000' },
      sup: { fontSize: 22, fontFamily: sans, fill: '#000', lineHeight: 16, padding: [0, 0, 28, 0] }
    }
  } });
});

const chart = echarts.init(document.getElementById('chart'), null, { renderer: 'canvas' });
chart.setOption({
  animation: false,
  backgroundColor: '#fff',
  grid: grids.map(g => Object.assign({
    show: true, borderColor: '#000', borderWidth: 1.3, backgroundColor: 'transparent',
    containLabel: false, outerBoundsMode: 'none'
  }, g)),
  xAxis: xAxes,
  yAxis: yAxes,
  graphic: titles,
  series: [
    scatter(0, laplacePoints, 3.4),
    arrows(0, laplaceArrows, 2),
    scatter(1, uniformPoints, 6.5),
    arrows(1, uniformArrows, 1.5),
    scatter(2, gaussPoints, 3.4),
    arrows(2, gaussArrows, 1.3),
    {
      type: 'custom', xAxisIndex: 2, yAxisIndex: 2, data: gaussCircle, z: 3, silent: true,
      renderItem: function (params, api) {
        const c = api.coord([api.value(0), api.value(1)]);
        const r = api.size([api.value(2), 0])[0];
        return { type: 'circle', shape: { cx: c[0], cy: c[1], r: r }, style: { fill: 'none', stroke: '#000', lineWidth: 1 } };
      }
    }
  ]
});
</script>
</body>
</html>
